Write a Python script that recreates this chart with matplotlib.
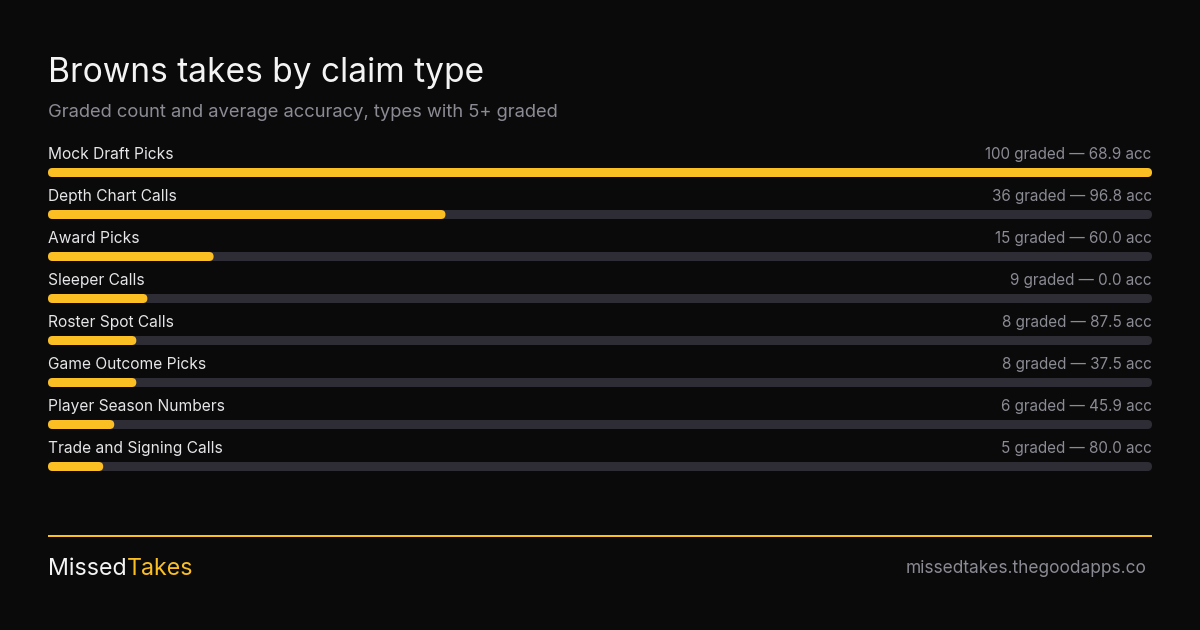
import matplotlib
matplotlib.use("Agg")
import matplotlib.pyplot as plt
from matplotlib.patches import FancyBboxPatch

# データ
claim_types = ["Mock Draft Picks", "Depth Chart Calls", "Award Picks", "Sleeper Calls",
               "Roster Spot Calls", "Game Outcome Picks", "Player Season Numbers",
               "Trade and Signing Calls"]
graded = [100, 36, 15, 9, 8, 8, 6, 5]
accuracy = [68.9, 96.8, 60.0, 0.0, 87.5, 37.5, 45.9, 80.0]

BG = "#0a0a0b"
GOLD = "#fbbf24"
TRACK = "#2e2d35"
WHITE = "#f4f4f5"
LABEL = "#e6e6e9"
GREY = "#8b8b94"

plt.rcParams['font.family'] = ['Inter', 'DejaVu Sans']

W, H = 1200, 630
fig = plt.figure(figsize=[12, 6.3], dpi=100, facecolor=BG)

# 全体の文字用（ピクセル座標）
bg = fig.add_axes([0, 0, 1, 1])
bg.set_xlim(0, W)
bg.set_ylim(H, 0)
bg.axis("off")

bg.text(48, 73, "Browns takes by claim type", color=WHITE, fontsize=24.15, va="center", ha="left")
bg.text(48, 112.5, "Graded count and average accuracy, types with 5+ graded", color=GREY, fontsize=13.25, va="center", ha="left")

# バー用の軸
row_h = 42
top = 151.5
ax = fig.add_axes([48 / W, 1 - (top + row_h * 8) / H, 1104 / W, row_h * 8 / H])
ax.set_xlim(0, 100)
ax.set_ylim(7.5, -0.5)
ax.axis("off")

unit_x = 1104 / 100
bar_h = 9 / row_h
radius = 4.5 / unit_x


def rounded_bar(y, value, color):
    patch = FancyBboxPatch((0, y - bar_h / 2), value, bar_h,
                           boxstyle=f"round,pad=0,rounding_size={radius}",
                           mutation_aspect=unit_x / row_h,
                           facecolor=color, edgecolor="none", clip_on=False)
    ax.add_patch(patch)


for i, (name, n, acc) in enumerate(zip(claim_types, graded, accuracy)):
    rounded_bar(i, 100, TRACK)
    rounded_bar(i, n, GOLD)
    ax.annotate(name, (0, i), xytext=(0, 18), textcoords="offset pixels",
                color=LABEL, fontsize=11.2, va="center", ha="left")
    ax.annotate(f"{n} graded \u2014 {acc:.1f} acc", (100, i), xytext=(-0.5, 18), textcoords="offset pixels",
                color=GREY, fontsize=10.95, va="center", ha="right")

# フッター
bg.plot([48, 1152], [536, 536], color=GOLD, lw=1.44, solid_capstyle="butt")
missed = bg.text(48, 569, "Missed", color=WHITE, fontsize=16.7, va="center", ha="left")
fig.canvas.draw()
ext = missed.get_window_extent()
bg.text(ext.x1, 569, "Takes", color=GOLD, fontsize=16.7, va="center", ha="left")
bg.text(1146.5, 568.5, "missedtakes.thegoodapps.co", color=GREY, fontsize=12.45, va="center", ha="right")

fig.savefig("out.png", dpi=100, facecolor=BG)
